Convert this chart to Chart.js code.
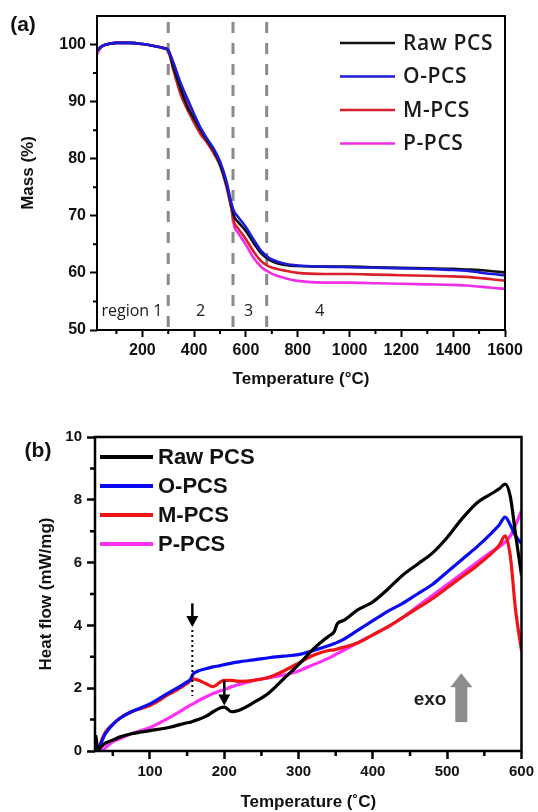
<!DOCTYPE html>
<html>
<head>
<meta charset="utf-8">
<script src="https://cdn.jsdelivr.net/npm/chart.js@4.4.0/dist/chart.umd.min.js"></script>
<style>
  html, body { margin: 0; padding: 0; background: #fff; }
  #wrapA { position: absolute; left: 0; top: 0; width: 538px; height: 395px; }
  #wrapB { position: absolute; left: 0; top: 395px; width: 538px; height: 417px; }
</style>
</head>
<body>
<div id="wrapA"><canvas id="tga" width="538" height="395"></canvas></div>
<div id="wrapB"><canvas id="dsc" width="538" height="417"></canvas></div>
<script>
// series names (same for both panels)
var seriesNames = ['Raw PCS', 'O-PCS', 'M-PCS', 'P-PCS'];

// ---- (a) TGA : mass (%) vs temperature ----
var tgaTemp = [25, 40, 60, 100, 150, 200, 250, 280, 300, 320, 350, 375, 400, 425, 450, 475, 500, 525, 545, 555, 570, 600, 630, 660, 690, 720, 750, 800, 900, 1000, 1100, 1200, 1300, 1400, 1450, 1500, 1550, 1600];
var tgaRaw = [99.0, 99.6, 100.0, 100.3, 100.3, 100.1, 99.7, 99.4, 99.0, 96.0, 92.0, 89.0, 87.0, 85.0, 83.2, 81.5, 79.0, 75.5, 71.5, 69.8, 68.9, 67.3, 65.2, 63.4, 62.3, 61.7, 61.4, 61.2, 61.1, 61.1, 61.0, 60.9, 60.8, 60.7, 60.6, 60.5, 60.3, 60.1];
var tgaO = [99.0, 99.6, 100.0, 100.3, 100.3, 100.1, 99.7, 99.4, 99.0, 96.8, 93.0, 90.4, 87.8, 85.4, 83.5, 81.8, 79.5, 76.0, 72.0, 70.7, 69.8, 68.0, 65.8, 63.8, 62.6, 62.0, 61.6, 61.3, 61.1, 61.0, 60.9, 60.8, 60.7, 60.5, 60.4, 60.1, 59.8, 59.6];
var tgaM = [98.8, 99.5, 100.0, 100.3, 100.3, 100.1, 99.7, 99.4, 98.8, 95.5, 91.0, 88.5, 86.3, 84.3, 82.8, 81.0, 78.8, 75.0, 71.0, 68.8, 67.8, 65.9, 63.7, 62.0, 61.1, 60.7, 60.4, 60.0, 59.8, 59.8, 59.7, 59.6, 59.5, 59.4, 59.3, 59.1, 58.9, 58.6];
var tgaP = [98.3, 99.5, 100.0, 100.3, 100.3, 100.1, 99.7, 99.4, 99.0, 96.5, 92.5, 89.8, 87.3, 85.2, 83.3, 81.5, 79.2, 75.5, 71.0, 68.1, 67.0, 64.9, 62.6, 61.0, 60.1, 59.5, 59.1, 58.6, 58.3, 58.3, 58.2, 58.1, 58.0, 57.9, 57.8, 57.6, 57.4, 57.2];
var tgaXTicks = [200, 400, 600, 800, 1000, 1200, 1400, 1600];
var tgaXMinor = [100, 300, 500, 700, 900, 1100, 1300, 1500];
var tgaYTicks = [50, 60, 70, 80, 90, 100];
var tgaYMinor = [55, 65, 75, 85, 95];
// region boundaries (dashed) and region labels
var regionBounds = [300, 550, 680];
var regionText = ['region 1', '2', '3', '4'];
var regionTextX = [160, 425, 610, 885];
var regionTextY = 53.2;

// ---- (b) DSC : heat flow vs temperature ----
var dscTemp = [27, 30, 35, 40, 50, 60, 75, 100, 125, 150, 155, 158, 165, 175, 185, 195, 200, 210, 220, 240, 260, 280, 300, 320, 340, 348, 352, 360, 380, 400, 420, 440, 460, 480, 500, 520, 540, 560, 570, 578, 585, 592, 600];
var dscRaw = [0.5, 0.05, 0.15, 0.25, 0.35, 0.45, 0.55, 0.65, 0.75, 0.9, 0.92, 0.95, 1.0, 1.1, 1.25, 1.38, 1.4, 1.25, 1.3, 1.55, 1.85, 2.3, 2.75, 3.25, 3.65, 3.8, 4.05, 4.15, 4.5, 4.75, 5.15, 5.6, 5.95, 6.3, 6.8, 7.4, 7.9, 8.2, 8.35, 8.5, 8.1, 6.9, 5.6];
var dscO = [null, 0.0, 0.3, 0.55, 0.85, 1.05, 1.25, 1.5, 1.85, 2.2, 2.3, 2.45, 2.55, 2.62, 2.68, 2.72, 2.75, 2.8, 2.84, 2.9, 2.97, 3.02, 3.07, 3.2, 3.35, 3.42, 3.46, 3.55, 3.85, 4.15, 4.45, 4.7, 5.0, 5.3, 5.7, 6.1, 6.5, 6.95, 7.2, 7.45, 7.2, 6.85, 6.6];
var dscM = [null, 0.0, 0.35, 0.6, 0.85, 1.05, 1.25, 1.45, 1.8, 2.15, 2.25, 2.3, 2.25, 2.15, 2.05, 2.2, 2.25, 2.25, 2.22, 2.25, 2.35, 2.55, 2.8, 3.05, 3.2, 3.22, 3.25, 3.3, 3.45, 3.7, 3.95, 4.25, 4.55, 4.85, 5.2, 5.55, 5.9, 6.3, 6.55, 6.85, 6.2, 4.5, 3.2];
var dscP = [null, null, 0.0, 0.1, 0.3, 0.4, 0.55, 0.75, 1.05, 1.4, 1.47, 1.5, 1.6, 1.72, 1.83, 1.92, 1.95, 2.05, 2.12, 2.25, 2.33, 2.42, 2.55, 2.75, 2.95, 3.05, 3.1, 3.2, 3.45, 3.7, 3.95, 4.25, 4.6, 4.95, 5.3, 5.65, 6.0, 6.35, 6.5, 6.65, 6.85, 7.2, 7.65];
var dscXTicks = [100, 200, 300, 400, 500, 600];
var dscXMinor = [50, 150, 250, 350, 450, 550];
var dscYTicks = [0, 2, 4, 6, 8, 10];
var dscYMinor = [1, 3, 5, 7, 9];
// markers: black down arrows, dotted guide, gray "exo" arrow
var arrowX = [157, 200];
var arrowTop = [4.7, 2.25];
var arrowTip = [3.95, 1.45];
var dottedTo = 1.75;
var exoX = 519, exoFrom = 0.92, exoTo = 2.48;
var exoTextX = 477, exoTextY = 1.62;

// turn two arrays into {x,y} points, skipping blanks
function pts(xs, ys) {
    var out = [];
    for (var i = 0; i < xs.length; i++) {
        if (ys[i] !== null) out.push({ x: xs[i], y: ys[i] });
    }
    return out;
}

function frameAndMinor(chart, xs, ys, len, width) {
    var ctx = chart.ctx, a = chart.chartArea;
    var sx = chart.scales.x, sy = chart.scales.y;
    ctx.save();
    ctx.strokeStyle = '#000';
    ctx.lineWidth = width;
    ctx.strokeRect(a.left, a.top, a.right - a.left, a.bottom - a.top);
    ctx.beginPath();
    xs.forEach(function (v) {
        var px = sx.getPixelForValue(v);
        ctx.moveTo(px, a.bottom); ctx.lineTo(px, a.bottom + len);
    });
    ys.forEach(function (v) {
        var py = sy.getPixelForValue(v);
        ctx.moveTo(a.left, py); ctx.lineTo(a.left - len, py);
    });
    ctx.stroke();
    ctx.restore();
}

// legend drawn from the datasets themselves
function drawLegend(chart, o) {
    var ctx = chart.ctx;
    ctx.save();
    ctx.font = o.font;
    if (o.spacing) ctx.letterSpacing = o.spacing;
    ctx.textBaseline = 'middle';
    ctx.textAlign = 'left';
    chart.data.datasets.forEach(function (ds, i) {
        var y = o.y + i * o.rowH;
        ctx.strokeStyle = ds.borderColor;
        ctx.lineWidth = o.lineWidth;
        ctx.beginPath();
        ctx.moveTo(o.x, y); ctx.lineTo(o.x + o.lineLen, y);
        ctx.stroke();
        ctx.fillStyle = o.color;
        ctx.fillText(ds.label, o.x + o.lineLen + o.gap, y + 1);
    });
    ctx.restore();
}

function panelLabel(chart, txt, x, y) {
    var ctx = chart.ctx;
    ctx.save();
    ctx.font = 'bold 21px "Liberation Sans", Arial, sans-serif';
    ctx.fillStyle = '#111';
    ctx.textAlign = 'center';
    ctx.textBaseline = 'middle';
    ctx.fillText(txt, x, y);
    ctx.restore();
}

var tickFontA = { family: '"Liberation Sans", Arial, sans-serif', weight: 'bold', size: 16 };
var tickFontB = { family: '"Liberation Sans", Arial, sans-serif', weight: 'bold', size: 15 };
var titleFont = { family: '"Liberation Sans", Arial, sans-serif', weight: 'bold', size: 17 };

function fixTicks(list) {
    return function (s) { s.ticks = list.map(function (v) { return { value: v }; }); };
}

// ------------------------- (a) -------------------------
new Chart(document.getElementById('tga').getContext('2d'), {
    type: 'line',
    data: {
        datasets: [
            { label: seriesNames[0], data: pts(tgaTemp, tgaRaw), borderColor: '#111111', order: 1 },
            { label: seriesNames[1], data: pts(tgaTemp, tgaO), borderColor: '#1a1ad8', order: 0 },
            { label: seriesNames[2], data: pts(tgaTemp, tgaM), borderColor: '#d8202c', order: 2 },
            { label: seriesNames[3], data: pts(tgaTemp, tgaP), borderColor: '#f02ee6', order: 3 }
        ]
    },
    options: {
        responsive: false,
        animation: false,
        datasets: { line: { borderWidth: 2.6, pointRadius: 0, fill: false, cubicInterpolationMode: 'monotone' } },
        layout: { padding: { top: 16, right: 33, bottom: 0, left: 0 } },
        plugins: { legend: { display: false }, tooltip: { enabled: false } },
        scales: {
            x: {
                type: 'linear', min: 25, max: 1600,
                afterFit: function (s) { s.height = 65; },
                afterBuildTicks: fixTicks(tgaXTicks),
                border: { display: false },
                grid: { drawOnChartArea: false, tickLength: 7, tickWidth: 2, tickColor: '#000' },
                ticks: { color: '#111', font: tickFontA, padding: 4, maxRotation: 0, autoSkip: false,
                         callback: function (v) { return String(v); } },
                title: { display: true, text: 'Temperature (°C)', color: '#111', font: titleFont, padding: { top: 0, bottom: 5 } }
            },
            y: {
                type: 'linear', min: 50, max: 105,
                afterFit: function (s) { s.width = 97; },
                afterBuildTicks: fixTicks(tgaYTicks),
                border: { display: false },
                grid: { drawOnChartArea: false, tickLength: 7, tickWidth: 2, tickColor: '#000' },
                ticks: { color: '#111', font: tickFontA, padding: 4, callback: function (v) { return String(v); } },
                title: { display: true, text: 'Mass (%)', color: '#111', font: titleFont, padding: { top: 18, bottom: 0 } }
            }
        }
    },
    plugins: [{
        id: 'tgaExtras',
        beforeDatasetsDraw: function (chart) {
            var ctx = chart.ctx, a = chart.chartArea, sx = chart.scales.x;
            ctx.save();
            ctx.strokeStyle = '#8a8a8a';
            ctx.lineWidth = 3;
            ctx.setLineDash([11, 10]);
            regionBounds.forEach(function (t) {
                var px = sx.getPixelForValue(t);
                ctx.beginPath();
                ctx.moveTo(px, a.top + 6); ctx.lineTo(px, a.bottom);
                ctx.stroke();
            });
            ctx.restore();
        },
        afterDraw: function (chart) {
            var ctx = chart.ctx, sx = chart.scales.x, sy = chart.scales.y;
            frameAndMinor(chart, tgaXMinor, tgaYMinor, 4, 2);
            ctx.save();
            ctx.font = '16px "Open Sans", sans-serif';
            ctx.fillStyle = '#1a1a1a';
            ctx.textAlign = 'center';
            ctx.textBaseline = 'middle';
            regionText.forEach(function (t, i) {
                ctx.fillText(t, sx.getPixelForValue(regionTextX[i]), sy.getPixelForValue(regionTextY));
            });
            ctx.restore();
            drawLegend(chart, { x: 340, y: 43, rowH: 33.5, lineLen: 55, gap: 8, lineWidth: 2.5,
                                font: '600 21px "Open Sans", sans-serif', spacing: '0.6px', color: '#1a1a1a' });
            panelLabel(chart, '(a)', 23, 25);
        }
    }]
});

// ------------------------- (b) -------------------------
new Chart(document.getElementById('dsc').getContext('2d'), {
    type: 'line',
    data: {
        datasets: [
            { label: seriesNames[0], data: pts(dscTemp, dscRaw), borderColor: '#000000' },
            { label: seriesNames[1], data: pts(dscTemp, dscO), borderColor: '#0a0af0' },
            { label: seriesNames[2], data: pts(dscTemp, dscM), borderColor: '#f01414' },
            { label: seriesNames[3], data: pts(dscTemp, dscP), borderColor: '#ff30f5' }
        ]
    },
    options: {
        responsive: false,
        animation: false,
        datasets: { line: { borderWidth: 3.2, pointRadius: 0, fill: false, cubicInterpolationMode: 'monotone' } },
        layout: { padding: { top: 42, right: 16, bottom: 0, left: 0 } },
        plugins: { legend: { display: false }, tooltip: { enabled: false } },
        scales: {
            x: {
                type: 'linear', min: 26, max: 600,
                afterFit: function (s) { s.height = 61; },
                afterBuildTicks: fixTicks(dscXTicks),
                border: { display: false },
                grid: { drawOnChartArea: false, tickLength: 8, tickWidth: 2.5, tickColor: '#000' },
                ticks: { color: '#111', font: tickFontB, padding: 4, maxRotation: 0, autoSkip: false,
                         callback: function (v) { return String(v); } },
                title: { display: true, text: 'Temperature (˚C)', color: '#111', font: titleFont, padding: { top: 0, bottom: -1 } }
            },
            y: {
                type: 'linear', min: 0, max: 10,
                afterFit: function (s) { s.width = 95; },
                afterBuildTicks: fixTicks(dscYTicks),
                border: { display: false },
                grid: { drawOnChartArea: false, tickLength: 8, tickWidth: 2.5, tickColor: '#000' },
                ticks: { color: '#111', font: tickFontB, padding: 5, callback: function (v) { return String(v); } },
                title: { display: true, text: 'Heat flow (mW/mg)', color: '#111', font: titleFont, padding: { top: 36, bottom: 0 } }
            }
        }
    },
    plugins: [{
        id: 'dscExtras',
        afterDraw: function (chart) {
            var ctx = chart.ctx, sx = chart.scales.x, sy = chart.scales.y;
            frameAndMinor(chart, dscXMinor, dscYMinor, 5, 2.5);
            ctx.save();
            // black down arrows
            ctx.strokeStyle = '#000';
            ctx.fillStyle = '#000';
            arrowX.forEach(function (t, i) {
                var px = sx.getPixelForValue(t);
                var y0 = sy.getPixelForValue(arrowTop[i]);
                var y1 = sy.getPixelForValue(arrowTip[i]);
                ctx.lineWidth = 2.5;
                ctx.setLineDash([]);
                ctx.beginPath();
                ctx.moveTo(px, y0); ctx.lineTo(px, y1 - 10);
                ctx.stroke();
                ctx.beginPath();
                ctx.moveTo(px - 6, y1 - 11); ctx.lineTo(px + 6, y1 - 11); ctx.lineTo(px, y1);
                ctx.closePath();
                ctx.fill();
            });
            // dotted guide under first arrow
            var gx = sx.getPixelForValue(arrowX[0]);
            ctx.lineWidth = 2;
            ctx.setLineDash([2, 3]);
            ctx.beginPath();
            ctx.moveTo(gx, sy.getPixelForValue(arrowTip[0]) + 3);
            ctx.lineTo(gx, sy.getPixelForValue(dottedTo));
            ctx.stroke();
            ctx.setLineDash([]);
            // gray exo arrow
            var ex = sx.getPixelForValue(exoX);
            var eTail = sy.getPixelForValue(exoFrom);
            var eTip = sy.getPixelForValue(exoTo);
            ctx.fillStyle = '#8c8c8c';
            ctx.fillRect(ex - 6, eTip + 13, 12, eTail - eTip - 13);
            ctx.beginPath();
            ctx.moveTo(ex - 11, eTip + 14); ctx.lineTo(ex + 11, eTip + 14); ctx.lineTo(ex, eTip);
            ctx.closePath();
            ctx.fill();
            ctx.font = 'bold 19px "Liberation Sans", Arial, sans-serif';
            ctx.fillStyle = '#222';
            ctx.textAlign = 'center';
            ctx.textBaseline = 'middle';
            ctx.fillText('exo', sx.getPixelForValue(exoTextX), sy.getPixelForValue(exoTextY));
            ctx.restore();
            drawLegend(chart, { x: 100, y: 62, rowH: 29, lineLen: 53, gap: 5, lineWidth: 4,
                                font: 'bold 22px "Liberation Sans", Arial, sans-serif', color: '#111' });
            panelLabel(chart, '(b)', 38, 56);
        }
    }]
});
</script>
</body>
</html>
